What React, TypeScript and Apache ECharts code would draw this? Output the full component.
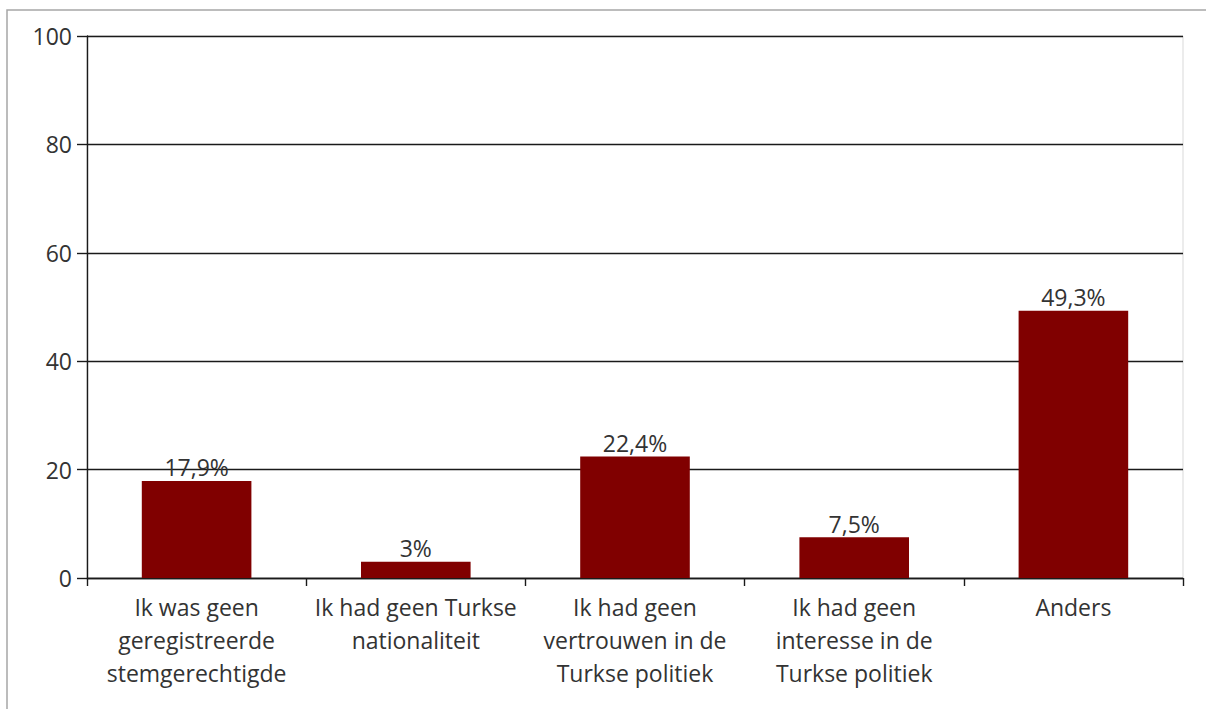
import React, { useEffect, useRef } from "react";
import * as echarts from "echarts";

const categories = [
  "Ik was geen\ngeregistreerde\nstemgerechtigde",
  "Ik had geen Turkse\nnationaliteit",
  "Ik had geen\nvertrouwen in de\nTurkse politiek",
  "Ik had geen\ninteresse in de\nTurkse politiek",
  "Anders",
];
const values = [17.9, 3, 22.4, 7.5, 49.3];
const yMin = 0;
const yMax = 100;
const yInterval = 20;

const FONT = "Open Sans";
const TEXT = "#333333";

export default function App() {
  const ref = useRef<HTMLDivElement>(null);
  useEffect(() => {
    if (!ref.current) return;
    const chart = echarts.init(ref.current, null, { renderer: "svg" });
    chart.setOption({
      animation: false,
      backgroundColor: "#ffffff",
      textStyle: { fontFamily: FONT },
      graphic: [
        {
          type: "rect",
          shape: { x: 7, y: 10, width: 1400, height: 900 },
          style: { fill: "none", stroke: "#a6a6a6", lineWidth: 1.5 },
          silent: true,
        },
      ],
      grid: {
        left: 87,
        top: 36,
        right: 23,
        bottom: 131,
        show: true,
        borderColor: "#d9d9d9",
        borderWidth: 1,
        backgroundColor: "transparent",
      },
      xAxis: {
        type: "category",
        data: categories,
        axisLine: { show: true, lineStyle: { color: "#1a1a1a", width: 1.4 } },
        axisTick: {
          show: true,
          alignWithLabel: false,
          length: 8,
          lineStyle: { color: "#1a1a1a", width: 1.4 },
        },
        axisLabel: {
          interval: 0,
          margin: 12,
          fontFamily: FONT,
          fontSize: 23,
          lineHeight: 33,
          color: TEXT,
          align: "center",
        },
      },
      yAxis: {
        type: "value",
        min: yMin,
        max: yMax,
        interval: yInterval,
        axisLine: { show: true, lineStyle: { color: "#1a1a1a", width: 1.4 } },
        axisTick: { show: true, length: 10, lineStyle: { color: "#1a1a1a", width: 1.4 } },
        splitLine: { show: true, lineStyle: { color: "#1a1a1a", width: 1.4 } },
        axisLabel: {
          margin: 15,
          fontFamily: FONT,
          fontSize: 23,
          color: TEXT,
        },
      },
      series: [
        {
          type: "bar",
          data: values,
          barWidth: "50%",
          itemStyle: { color: "#800000" },
          label: {
            show: true,
            position: "top",
            distance: 2,
            fontFamily: FONT,
            fontSize: 23,
            color: TEXT,
            formatter: (p: any) => String(p.value).replace(".", ",") + "%",
          },
        },
      ],
    });
    return () => chart.dispose();
  }, []);
  return (
    <div
      ref={ref}
      style={{ position: "fixed", left: 0, top: 0, width: 1206, height: 709, background: "#fff" }}
    />
  );
}
